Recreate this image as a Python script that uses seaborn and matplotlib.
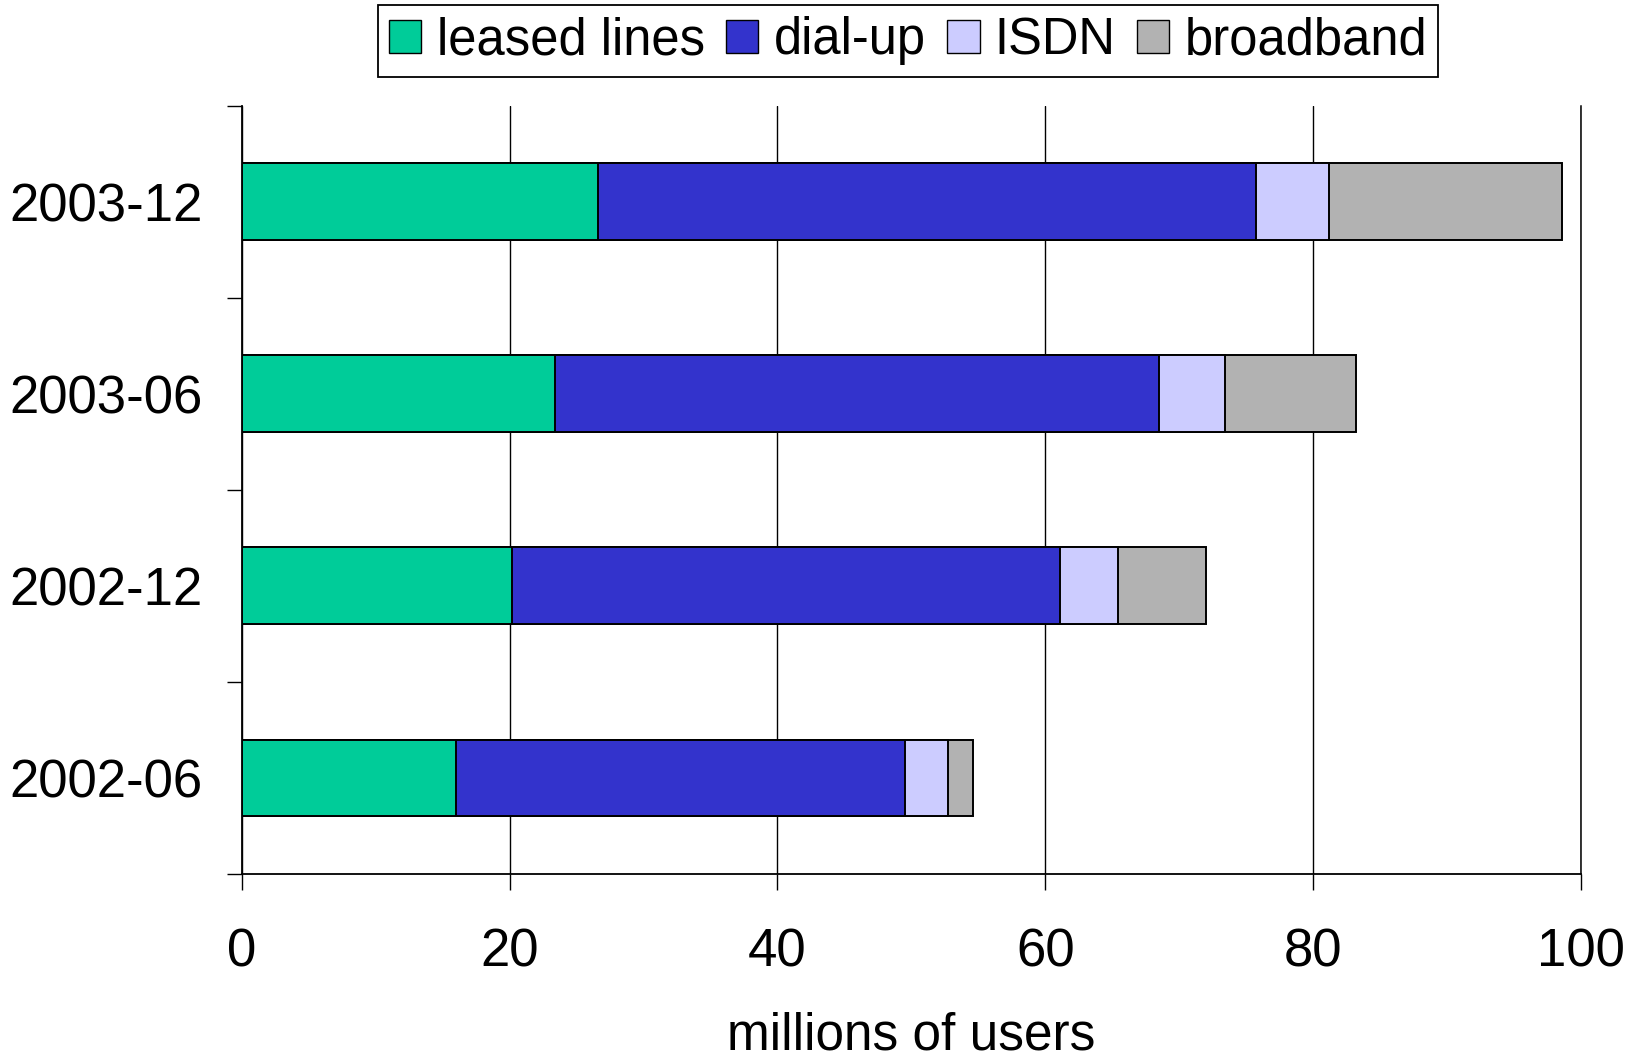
import numpy as np
import matplotlib
matplotlib.use("Agg")
import matplotlib.pyplot as plt
import seaborn as sns
from matplotlib.patches import Patch
from matplotlib.ticker import FixedLocator

# Internet users by access type, millions
periods = ["2003-12", "2003-06", "2002-12", "2002-06"]
leased_lines = [26.6, 23.4, 20.2, 16.0]
dial_up = [49.1, 45.1, 40.9, 33.5]
isdn = [5.5, 4.9, 4.3, 3.2]
broadband = [17.4, 9.8, 6.6, 1.9]

series_names = ["leased lines", "dial-up", "ISDN", "broadband"]
series_colors = ["#00CC99", "#3333CC", "#CCCCFF", "#B2B2B2"]
x_ticks = [0, 20, 40, 60, 80, 100]

sns.set_theme(style="white")
plt.rcParams["font.family"] = ["Liberation Sans", "DejaVu Sans"]

fig = plt.figure(figsize=(16.26, 10.60), dpi=100)
ax = fig.add_axes([0.1487, 0.1755, 0.8236, 0.7247])

# stacked bars: draw running totals from the largest down so each segment keeps its colour
totals = np.cumsum([leased_lines, dial_up, isdn, broadband], axis=0)
for i in reversed(range(len(series_names))):
    sns.barplot(x=totals[i], y=periods, order=periods, orient="h",
                color=series_colors[i], saturation=1, width=0.4,
                edgecolor="black", linewidth=1.4, errorbar=None, ax=ax)

ax.set_xlim(0, 100)
ax.set_ylim(3.5, -0.5)
ax.set_xticks(x_ticks)
ax.set_xticklabels([str(t) for t in x_ticks])
ax.set_axisbelow(True)
ax.xaxis.grid(True, color="black", linewidth=1.0)
ax.yaxis.grid(False)

ax.spines["top"].set_visible(False)
for side in ["left", "bottom", "right"]:
    ax.spines[side].set_color("black")
    ax.spines[side].set_linewidth(1.3)
ax.spines["right"].set_linewidth(1.1)

ax.tick_params(axis="x", which="major", direction="out", length=11.7, width=1.0,
               color="black", bottom=True, pad=27, labelsize=38, labelcolor="black")
ax.yaxis.set_minor_locator(FixedLocator([-0.5, 0.5, 1.5, 2.5, 3.5]))
ax.tick_params(axis="y", which="minor", direction="out", length=11, width=1.0,
               color="black", left=True)
ax.tick_params(axis="y", which="major", length=0, pad=28, labelsize=38,
               labelcolor="black")

ax.set_xlabel("millions of users", fontsize=37, color="black", labelpad=24)
ax.set_ylabel("")

handles = [Patch(facecolor=c, edgecolor="black", linewidth=1.0) for c in series_colors]
leg = fig.legend(handles, series_names, loc="upper center",
                 bbox_to_anchor=(0.5585, 0.995), ncol=4, frameon=True,
                 fancybox=False, edgecolor="black", framealpha=1, fontsize=36.5,
                 handlelength=0.64, handleheight=0.64, handletextpad=0.3,
                 columnspacing=0.42, borderpad=0.22, borderaxespad=0)
leg.get_frame().set_linewidth(1.3)
for t in leg.get_texts():
    t.set_color("black")

fig.savefig("out.png", dpi=100)
